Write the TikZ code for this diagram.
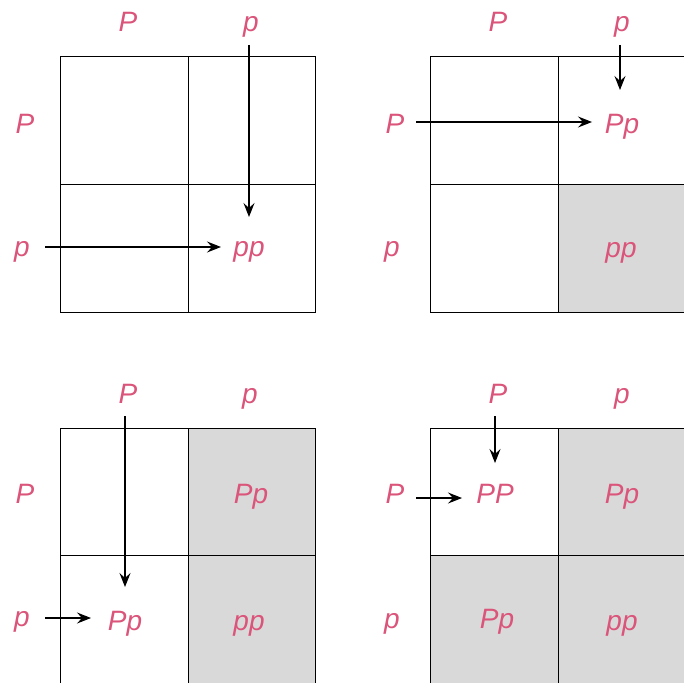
\documentclass[tikz,border=0pt]{standalone}
\usepackage{fontspec}
\setmainfont{Liberation Sans}
\usetikzlibrary{arrows.meta}
\definecolor{allele}{RGB}{219,84,122}
\definecolor{cellgray}{RGB}{217,217,217}
\tikzset{
  lbl/.style={anchor=base, text=allele, inner sep=0pt, font=\fontsize{28}{34}\selectfont\itshape},
  grid/.style={draw=black, line width=1pt},
  arr/.style={draw=black, line width=1.1pt, -{Stealth[length=14pt,width=11pt,inset=5pt]}},
  shade/.style={fill=cellgray}
}
\begin{document}
\begin{tikzpicture}[x=1pt,y=-1pt]
\useasboundingbox (0,0) rectangle (684,682);
\clip (0,0) rectangle (684,682);
% ---------- shading ----------
\fill[shade] (558,184) rectangle (686,312);
\fill[shade] (188,428) rectangle (316,684);
\fill[shade] (558,428) rectangle (686,684);
\fill[shade] (430,555) rectangle (558,684);
% ---------- grids ----------
\draw[grid] (60,57) rectangle (315,312) (188,57) -- (188,312) (60,184) -- (315,184);
\draw[grid] (430,57) rectangle (686,312) (558,57) -- (558,312) (430,184) -- (686,184);
\draw[grid] (60,428) rectangle (315,684) (188,428) -- (188,684) (60,555) -- (315,555);
\draw[grid] (430,428) rectangle (686,684) (558,428) -- (558,684) (430,555) -- (686,555);
% ---------- square 1 ----------
\node[lbl] (a1) at (128,32) {P};
\node[lbl] (a2) at (251,32) {p};
\node[lbl] (a3) at (25,133) {P};
\node[lbl] (a4) at (22,256) {p};
\node[lbl] (a5) at (249,256) {pp};
\coordinate (a2s) at (249,45);
\coordinate (a2e) at (249,217);
\coordinate (a4s) at (45,247);
\coordinate (a4e) at (221,247);
\draw[arr] (a2s) -- (a2e);
\draw[arr] (a4s) -- (a4e);
% ---------- square 2 ----------
\node[lbl] (b1) at (498,32) {P};
\node[lbl] (b2) at (622,32) {p};
\node[lbl] (b3) at (395,133) {P};
\node[lbl] (b4) at (392,256) {p};
\node[lbl] (b5) at (622,133) {Pp};
\node[lbl] (b6) at (621,257) {pp};
\coordinate (b2s) at (620,45);
\coordinate (b2e) at (620,90);
\coordinate (b3s) at (416,122);
\coordinate (b3e) at (592,122);
\draw[arr] (b2s) -- (b2e);
\draw[arr] (b3s) -- (b3e);
% ---------- square 3 ----------
\node[lbl] (c1) at (128,403) {P};
\node[lbl] (c2) at (250,403) {p};
\node[lbl] (c3) at (25,503) {P};
\node[lbl] (c4) at (22,626) {p};
\node[lbl] (c5) at (251,503) {Pp};
\node[lbl] (c6) at (249,630) {pp};
\node[lbl] (c7) at (125,630) {Pp};
\coordinate (c1s) at (125,416);
\coordinate (c1e) at (125,587);
\coordinate (c4s) at (45,618);
\coordinate (c4e) at (91,618);
\draw[arr] (c1s) -- (c1e);
\draw[arr] (c4s) -- (c4e);
% ---------- square 4 ----------
\node[lbl] (d1) at (498,403) {P};
\node[lbl] (d2) at (622,403) {p};
\node[lbl] (d3) at (395,503) {P};
\node[lbl] (d4) at (392,628) {p};
\node[lbl] (d5) at (495,503) {PP};
\node[lbl] (d6) at (622,503) {Pp};
\node[lbl] (d7) at (497,628) {Pp};
\node[lbl] (d8) at (622,630) {pp};
\coordinate (d1s) at (495,416);
\coordinate (d1e) at (495,463);
\coordinate (d3s) at (416,498);
\coordinate (d3e) at (462,498);
\draw[arr] (d1s) -- (d1e);
\draw[arr] (d3s) -- (d3e);
\end{tikzpicture}
\end{document}
